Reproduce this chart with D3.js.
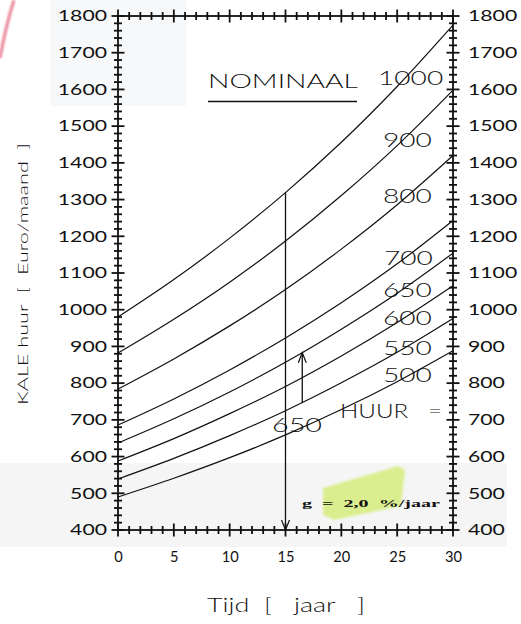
<!DOCTYPE html>
<html>
<head>
<meta charset="utf-8">
<script src="https://cdn.jsdelivr.net/npm/d3@7"></script>
<style>
  html, body { margin: 0; padding: 0; background: #fff; }
  svg { display: block; }
  text { font-family: Lato, "Open Sans", sans-serif; fill: #111; }
</style>
</head>
<body>
<svg id="chart" width="521" height="624"></svg>
<script>
// Years at which each rent curve is sampled
const years = [0, 5, 10, 15, 20, 25, 30];

// Starting rent levels (labels) and the curve values at each sampled year
const rentLabels = ["500", "550", "600", "650", "700", "800", "900", "1000"];
const rent500  = [490, 541, 597, 659, 728, 804, 888];
const rent550  = [539, 595, 657, 725, 801, 884, 976];
const rent600  = [588, 649, 717, 791, 874, 965, 1065];
const rent650  = [637, 703, 776, 857, 947, 1045, 1154];
const rent700  = [686, 757, 836, 923, 1019, 1125, 1243];
const rent800  = [784, 866, 956, 1055, 1165, 1286, 1420];
const rent900  = [882, 974, 1075, 1187, 1311, 1447, 1598];
const rent1000 = [980, 1082, 1195, 1319, 1456, 1608, 1775];
const rentSeries = [rent500, rent550, rent600, rent650, rent700, rent800, rent900, rent1000];

// Axis ticks
const xTicks = [0, 5, 10, 15, 20, 25, 30];
const yTicks = [400, 500, 600, 700, 800, 900, 1000, 1100, 1200, 1300, 1400, 1500, 1600, 1700, 1800];

// Reading example: 650 rent, year 15 marker, and the arrow up to the 650 curve
const markerYear = 15;
const markerTop = 1319;
const arrowYear = 16.5;
const arrowFrom = 746;
const arrowTo = 883;

const svg = d3.select("#chart");

// Scanned-paper tints
svg.append("rect").attr("x", 0).attr("y", 463).attr("width", 507).attr("height", 84).attr("fill", "#f5f5f5");
svg.append("rect").attr("x", 50).attr("y", 0).attr("width", 136).attr("height", 106).attr("fill", "#f7f8fa");
const defs = svg.append("defs");
defs.append("filter").attr("id", "soft").append("feGaussianBlur").attr("stdDeviation", 1.2);
svg.append("path")
  .attr("d", "M14,0 Q6,25 0,58")
  .attr("fill", "none").attr("stroke", "#e0506a").attr("stroke-width", 3)
  .attr("opacity", 0.7).attr("filter", "url(#soft)");

const x = d3.scaleLinear().domain([0, 30]).range([118, 453]);
const y = d3.scaleLinear().domain([400, 1800]).range([530, 16]);

const plotLeft = x(0), plotRight = x(30), plotTop = y(1800), plotBottom = y(400);

// Highlighter mark behind the growth-rate note
svg.append("path")
  .attr("d", "M323,488 L398,466 L405,470 L401,506 L334,520 L323,515 Z")
  .attr("fill", "#d8ee86").attr("opacity", 0.9).attr("filter", "url(#soft)");

// Frame ticks that cross the border (both directions): minor every 1 year / 20 euro,
// longer ones at the labelled values
const minorX = d3.range(0, 31, 1).filter(v => v % 5 !== 0);
const minorY = d3.range(400, 1801, 20).filter(v => v % 100 !== 0);
const tickGroup = svg.append("g").attr("stroke", "#111").attr("stroke-width", 1.8);

[[minorY, 4], [yTicks, 6.5]].forEach(([vals, len]) => {
  [plotLeft, plotRight].forEach(px => {
    tickGroup.append("g").selectAll("line").data(vals).join("line")
      .attr("x1", px - len).attr("x2", px + len)
      .attr("y1", d => y(d)).attr("y2", d => y(d));
  });
});
[[minorX, 4], [xTicks, 6.5]].forEach(([vals, len]) => {
  [plotTop, plotBottom].forEach(py => {
    tickGroup.append("g").selectAll("line").data(vals).join("line")
      .attr("y1", py - len).attr("y2", py + len)
      .attr("x1", d => x(d)).attr("x2", d => x(d));
  });
});

// Plot frame
svg.append("rect")
  .attr("x", plotLeft).attr("y", plotTop).attr("width", plotRight - plotLeft).attr("height", plotBottom - plotTop)
  .attr("fill", "none").attr("stroke", "#111").attr("stroke-width", 1.8);

// Tick labels
function styleLabels(g, perChar) {
  g.select(".domain").remove();
  g.selectAll(".tick line").remove();
  g.selectAll(".tick text")
    .style("font-size", "15px").style("font-family", "Lato, sans-serif").attr("fill", "#111")
    .attr("textLength", d => String(d).length * perChar)
    .attr("lengthAdjust", "spacingAndGlyphs");
}
const plain = d3.format("d");
svg.append("g").attr("transform", `translate(${plotLeft},0)`)
  .call(d3.axisLeft(y).tickValues(yTicks).tickFormat(plain).tickSize(0).tickPadding(11))
  .call(g => styleLabels(g, 12.3));
svg.append("g").attr("transform", `translate(${plotRight},0)`)
  .call(d3.axisRight(y).tickValues(yTicks).tickFormat(plain).tickSize(0).tickPadding(15))
  .call(g => styleLabels(g, 12.3));
svg.append("g").attr("transform", `translate(0,${plotBottom})`)
  .call(d3.axisBottom(x).tickValues(xTicks).tickFormat(plain).tickSize(0).tickPadding(21))
  .call(g => styleLabels(g, 8.5));

// Rent curves
const line = d3.line()
  .x((d, i) => x(years[i]))
  .y(d => y(d))
  .curve(d3.curveCatmullRom);
svg.append("g").selectAll("path")
  .data(rentSeries)
  .join("path")
  .attr("d", line)
  .attr("fill", "none").attr("stroke", "#111").attr("stroke-width", 1.2);

// Marker line at year 15 with arrowhead at the bottom
const mx = x(markerYear);
svg.append("line").attr("x1", mx).attr("x2", mx).attr("y1", y(markerTop)).attr("y2", plotBottom)
  .attr("stroke", "#111").attr("stroke-width", 1.3);
svg.append("path").attr("d", `M${mx - 4},${plotBottom - 10} L${mx},${plotBottom} L${mx + 4},${plotBottom - 10}`)
  .attr("fill", "none").attr("stroke", "#111").attr("stroke-width", 1.2);

// Small arrow pointing up to the 650 curve
const ax = x(arrowYear);
svg.append("line").attr("x1", ax).attr("x2", ax).attr("y1", y(arrowFrom)).attr("y2", y(arrowTo))
  .attr("stroke", "#111").attr("stroke-width", 1.3);
svg.append("path").attr("d", `M${ax - 4},${y(arrowTo) + 10} L${ax},${y(arrowTo)} L${ax + 4},${y(arrowTo) + 10}`)
  .attr("fill", "none").attr("stroke", "#111").attr("stroke-width", 1.2);

// Curve labels along the right edge
const labelBaselines = [382, 355, 325, 297, 265, 203, 147, 85];
const labelX = [383, 383, 383, 383, 384, 383, 383, 378];
svg.append("g").selectAll("text")
  .data(rentLabels)
  .join("text")
  .attr("x", (d, i) => labelX[i])
  .attr("y", (d, i) => labelBaselines[i])
  .attr("textLength", d => d.length * 16.3)
  .attr("lengthAdjust", "spacingAndGlyphs")
  .style("font-size", "19px").style("font-weight", 300)
  .text(d => d);

// Title with underline
svg.append("text").attr("x", 208).attr("y", 88)
  .attr("textLength", 150).attr("lengthAdjust", "spacingAndGlyphs")
  .style("font-size", "19px").style("font-weight", 300)
  .text("NOMINAAL");
svg.append("line").attr("x1", 208).attr("x2", 357).attr("y1", 101.5).attr("y2", 101.5)
  .attr("stroke", "#111").attr("stroke-width", 1.5);

// "HUUR =" and the example value
svg.append("text").attr("x", 340).attr("y", 418)
  .attr("textLength", 102).attr("lengthAdjust", "spacingAndGlyphs")
  .style("font-size", "19px").style("font-weight", 300).style("white-space", "pre")
  .text("HUUR   =");
svg.append("text").attr("x", 272).attr("y", 432)
  .attr("textLength", 50).attr("lengthAdjust", "spacingAndGlyphs")
  .style("font-size", "19px").style("font-weight", 300)
  .text("650");

// Growth-rate note
svg.append("text").attr("x", 302).attr("y", 507)
  .attr("textLength", 138).attr("lengthAdjust", "spacingAndGlyphs")
  .style("font-family", "'Liberation Serif', serif").style("font-weight", 700)
  .style("font-size", "10px").style("white-space", "pre")
  .text("g  =  2,0  %/jaar");

// Axis titles
svg.append("text").attr("x", 207).attr("y", 612)
  .attr("textLength", 158).attr("lengthAdjust", "spacingAndGlyphs")
  .style("font-size", "19px").style("font-weight", 300).style("white-space", "pre")
  .text("Tijd  [   jaar   ]");
svg.append("text")
  .attr("transform", "translate(28,274) rotate(-90)")
  .attr("text-anchor", "middle")
  .attr("textLength", 262).attr("lengthAdjust", "spacingAndGlyphs")
  .style("font-size", "14px").style("font-weight", 300).style("white-space", "pre")
  .text("KALE huur  [  Euro/maand  ]");
</script>
</body>
</html>
